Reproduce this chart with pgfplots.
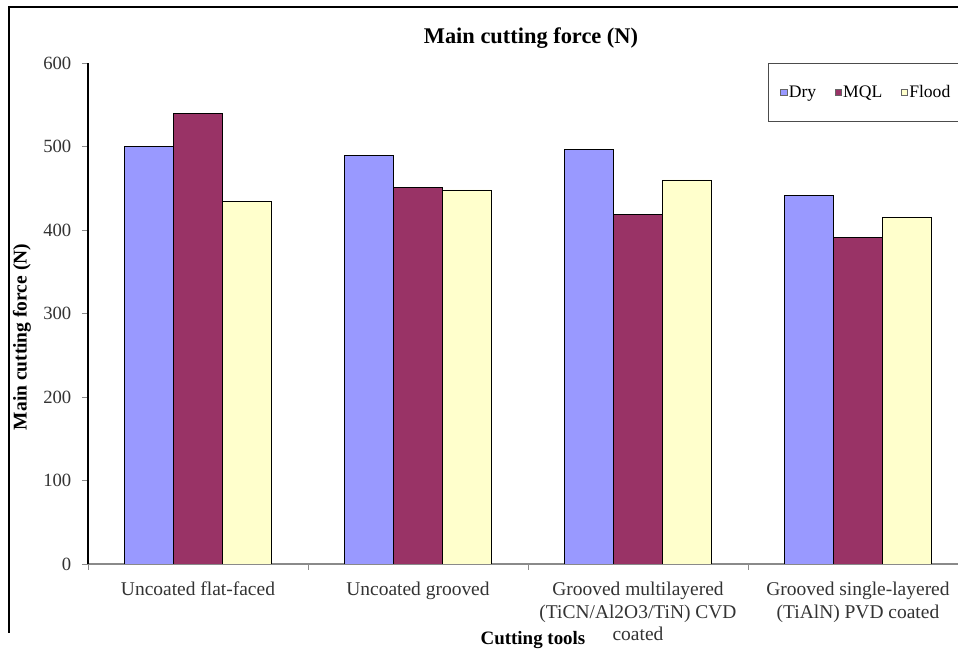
\documentclass[border=0pt]{standalone}
\usepackage{pgfplots}
\pgfplotsset{compat=1.18}
\usepackage{fontspec}
\setmainfont{Liberation Serif}

\definecolor{dryc}{HTML}{9999FF}
\definecolor{mqlc}{HTML}{993366}
\definecolor{floodc}{HTML}{FFFFCC}
\definecolor{tickgray}{HTML}{8A8A8A}

% Main cutting force (N) per tool and cooling condition
\pgfplotstableread{
idx dry mql flood
0   500 540 434
1   489 451 448
2   497 419 460
3   441 391 415
}\forcedata

\begin{document}
\begin{tikzpicture}
\useasboundingbox (0pt,0pt) rectangle (718.5pt,492.75pt);
\clip (0pt,0pt) rectangle (718.5pt,492.75pt);
\fill[white] (0pt,0pt) rectangle (718.5pt,492.75pt);

% chart-area border (left and top edges)
\draw[line width=1.5pt] (6.75pt,18pt) -- (6.75pt,487.5pt) -- (725pt,487.5pt);

\begin{axis}[
  at={(66pt,69.75pt)}, anchor=south west,
  scale only axis,
  width=660pt, height=375.75pt,
  xmin=-0.5, xmax=3.5,
  ymin=0, ymax=600,
  axis x line=bottom, axis y line=left,
  axis line style={-},
  x axis line style={draw=tickgray, line width=0.8pt},
  y axis line style={draw=black, line width=0.8pt},
  ytick={0,100,...,600},
  xtick={-0.5,0.5,1.5,2.5,3.5},
  xticklabels={},
  tick align=outside,
  major tick length=4.5pt,
  tick style={draw=tickgray, line width=0.6pt},
  extra x ticks={0,1,2,3},
  extra x tick labels={Uncoated flat-faced, Uncoated grooved,
    {Grooved multilayered\\(TiCN/Al2O3/TiN) CVD\\coated},
    {Grooved single-layered\\(TiAlN) PVD coated}},
  extra x tick style={major tick length=0pt},
  xticklabel style={align=center, text=black!80,
    font=\fontsize{14.6}{17}\selectfont, yshift=-10pt},
  yticklabel style={text=black!80, font=\fontsize{14}{16}\selectfont, xshift=-4.5pt},
  /pgf/number format/assume math mode=true,
  ybar=0pt, bar width=36.75pt,
  every axis plot/.append style={draw=black, line width=0.6pt},
  legend columns=3,
  legend style={
    at={(0.7727,1)}, anchor=north west,
    draw=black!70, line width=0.6pt,
    inner xsep=9pt, inner ysep=15.5pt,
    font=\fontsize{13.2}{15}\selectfont,
    nodes={inner sep=0.8pt},
    /tikz/every even column/.append style={column sep=13pt},
  },
  legend image code/.code={
    \draw[#1, draw=black!60, line width=0.6pt] (0pt,-2.4pt) rectangle (5pt,2.4pt);
  },
]
\addplot[fill=dryc] table[x=idx, y=dry] {\forcedata};
\addplot[fill=mqlc] table[x=idx, y=mql] {\forcedata};
\addplot[fill=floodc] table[x=idx, y=flood] {\forcedata};
\legend{Dry, MQL, Flood}
\end{axis}

\node[font=\bfseries\fontsize{16.8}{20}\selectfont] at (398.25pt,464.25pt) {Main cutting force (N)};
\node[font=\bfseries\fontsize{14.6}{18}\selectfont, rotate=90] at (16.5pt,240pt) {Main cutting force (N)};
\node[font=\bfseries\fontsize{14.2}{18}\selectfont] at (399.75pt,12.5pt) {Cutting tools};
\end{tikzpicture}
\end{document}
